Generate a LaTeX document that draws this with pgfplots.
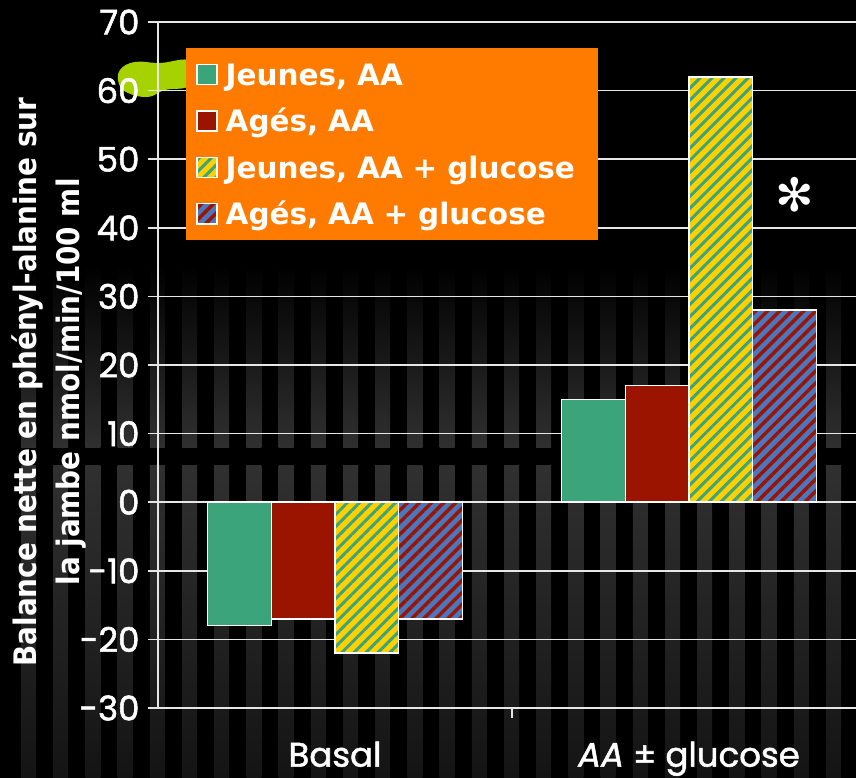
\documentclass[border=0pt]{standalone}
\usepackage{fontspec}
\usepackage{pgfplots}
\pgfplotsset{compat=1.18}
\usetikzlibrary{patterns.meta}
\setmainfont{DejaVu Sans}
\newfontfamily\tickfont[FakeBold=1.5]{Poppins}
\newfontfamily\legfont{DejaVu Sans}
\newfontfamily\labfont{DejaVu Sans Condensed}
\definecolor{cgreen}{HTML}{3CA47A}
\definecolor{cred}{HTML}{9B1400}
\definecolor{cyellow}{HTML}{FFD000}
\definecolor{cblue}{HTML}{4A78C0}
\definecolor{corange}{HTML}{FF7B00}
\definecolor{clime}{HTML}{A6D200}
\definecolor{cgrid}{HTML}{E6E6E6}
\definecolor{stripeA}{HTML}{303030}
\definecolor{stripeB}{HTML}{141414}
\pgfplotsset{
  ylegend/.style={legend image code/.code={\fill[cyellow] (0pt,-10pt) rectangle (20pt,10pt);\draw[##1, draw=white, line width=1.5pt] (0pt,-10pt) rectangle (20pt,10pt);}},
  blegend/.style={legend image code/.code={\fill[cblue] (0pt,-10pt) rectangle (20pt,10pt);\draw[##1, draw=white, line width=1.5pt] (0pt,-10pt) rectangle (20pt,10pt);}},
}
\begin{document}
\begin{tikzpicture}
\path[use as bounding box] (0,0) rectangle (856pt,778pt);
\fill[black] (0,0) rectangle (856pt,778pt);
\foreach \i in {0,...,26}{
  \pgfmathsetmacro\xx{21+32.2*\i}
  \pgfmathsetmacro\xy{36+32.2*\i}
  \fill[top color=black, bottom color=stripeA] (\xx pt,513pt) rectangle (\xy pt,330pt);
  \fill[top color=stripeA, bottom color=stripeB] (\xx pt,312pt) rectangle (\xy pt,0pt);
}
\fill[clime] plot[smooth cycle, tension=0.7] coordinates {(120pt,708pt) (135pt,716pt) (160pt,715pt) (190pt,717pt) (190pt,693pt) (165pt,688pt) (148pt,681pt) (128pt,685pt) (119pt,694pt)};
\node[rotate=90, text=white, font=\labfont\bfseries\fontsize{31}{43}\selectfont, align=center] at (49pt,396pt) {Balance nette en phényl-alanine sur\\la jambe nmol/min/100 ml};
\begin{axis}[
  at={(158pt,70pt)}, anchor=south west,
  scale only axis, width=708pt, height=686pt,
  xmin=-0.5, xmax=1.5, ymin=-30, ymax=70,
  ybar, bar width=0.18,
  axis lines*=left,
  axis line style={cgrid, line width=1.5pt},
  tick style={cgrid, line width=1.5pt},
  tick align=outside, major tick length=10pt,
  ytick={-30,-20,...,70},
  ymajorgrids, grid style={cgrid, line width=1.5pt},
  xtick={0.5}, xticklabels={},
  extra x ticks={0,1},
  extra x tick labels={Basal, {\itshape AA} ± glucose},
  extra x tick style={major tick length=0pt},
  xticklabel style={font=\tickfont\fontsize{34}{40}\selectfont, text=white, yshift=-30pt},
  yticklabel style={font=\tickfont\fontsize{34}{38}\selectfont, text=white, xshift=-5pt},
  /pgf/number format/assume math mode=true,
  legend style={at={(rel axis cs:0.0395,0.962)}, anchor=north west, fill=corange, draw=none, text=white,
    font=\legfont\bfseries\fontsize{29.5}{34}\selectfont, inner xsep=10pt, inner ysep=15pt, row sep=24.5pt, column sep=8pt,
    nodes={inner sep=0pt, text height=22pt, text depth=0pt, anchor=west, text width=362pt}},
  legend cell align=left,
  legend image code/.code={\draw[#1, draw=white, line width=1.5pt] (0pt,-10pt) rectangle (20pt,10pt);},
]
\addplot[fill=cgreen, draw=white, line width=1.5pt, bar shift=-0.27] coordinates {(0,-18) (1,15)};
\addplot[fill=cred, draw=white, line width=1.5pt, bar shift=-0.09] coordinates {(0,-17) (1,17)};
\addplot[fill=cyellow, draw=none, bar shift=0.09, forget plot] coordinates {(0,-22) (1,62)};
\addplot[pattern={Lines[angle=45,distance=8.5pt,line width=3pt]}, pattern color=cgreen, draw=white, line width=1.5pt, bar shift=0.09, ylegend] coordinates {(0,-22) (1,62)};
\addplot[fill=cblue, draw=none, bar shift=0.27, forget plot] coordinates {(0,-17) (1,28)};
\addplot[pattern={Lines[angle=45,distance=8.5pt,line width=3.5pt]}, pattern color=cred, draw=white, line width=1.5pt, bar shift=0.27, blegend] coordinates {(0,-17) (1,28)};
\legend{{Jeunes, AA}, {Agés, AA}, {Jeunes, AA + glucose}, {Agés, AA + glucose}}
\node[text=white, font=\legfont\fontsize{46}{46}\selectfont] at (axis cs:1.2994,44.75) {✻};
\end{axis}
\end{tikzpicture}
\end{document}
